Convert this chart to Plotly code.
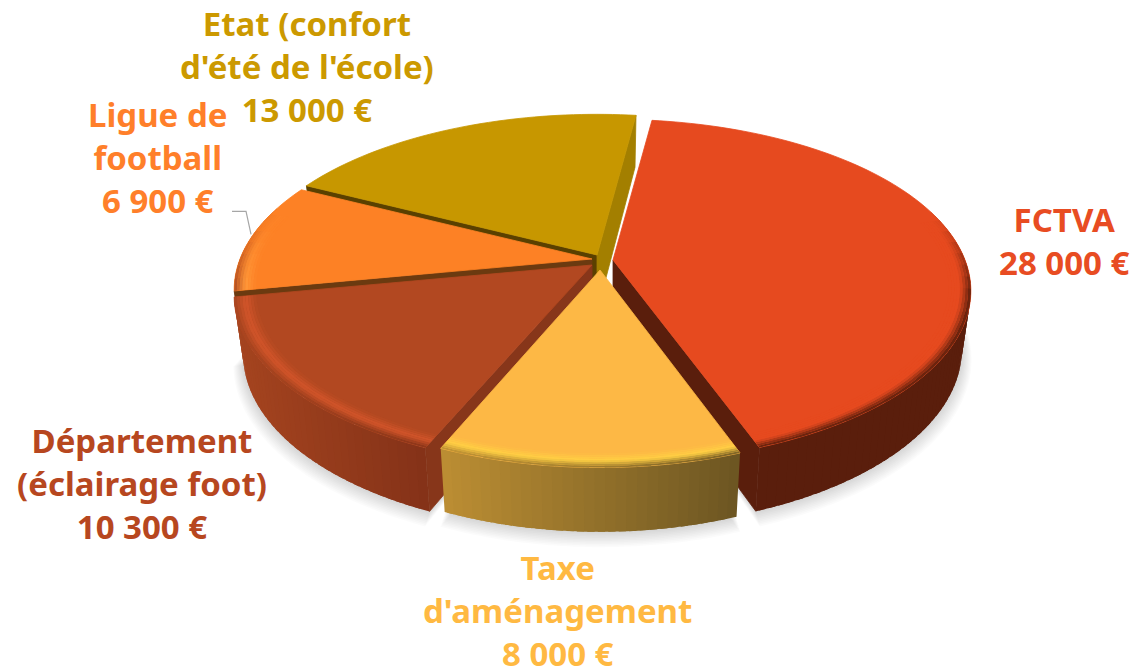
import numpy as np
import plotly.graph_objects as go

# --- data ---
names = ["FCTVA", "Taxe<br>d'aménagement", "Département<br>(éclairage foot)", "Ligue de<br>football", "Etat (confort<br>d'été de l'école)"]
values = [28000, 8000, 10300, 6900, 13000]
top_colors = ["#E64A1F", "#FDB845", "#B24821", "#FD8125", "#C79700"]
label_colors = ["#E84C22", "#FFB942", "#B7471F", "#FF7F2A", "#CC9900"]
wall_start = ["#5A1E0C", "#6C5522", "#87361A", "#6B3A10", "#5A4000"]
wall_end = ["#5A1E0C", "#6C5522", "#87361A", "#6B3A10", "#A37F00"]
side_left = ["#5A1E0C", "#BC8E33", "#A5441F", "#A5441F", "#8A6A00"]
side_right = ["#5A1E0C", "#6C5522", "#843218", "#A5441F", "#8A6A00"]
rim_hi = ["#E64A1F", "#FFD044", "#D2552A", "#FF9A3C", "#C79700"]

# --- layout of the drawing ---
FONT = "Noto Sans"
FS = 33
START = 7.5
A, B, K, H = 352.0, 166.0, 0.18, 57.0
BOTTOM_SCALE = 0.975
tips = [(613, 260), (600, 270), (592, 265), (592, 259), (597, 255)]
radius_x = [1.0, 0.96, 1.0, 1.0, 1.0]
radius_y = [1.0, 0.98, 1.0, 1.0, 1.0]
label_center = [(1064, 241), (557, 610), (142, 483), (157, 157), (307, 66)]
paint_order = [4, 3, 2, 0, 1]

theta = [START]
for v in values:
    theta.append(theta[-1] + 360.0 * v / sum(values))


def uv(t, r=1.0):
    a = np.radians(t)
    return r * np.sin(a), -r * np.cos(a)


def proj(i, u, v, bottom=False, grow=1.0, shift=0.0):
    u, v = u * radius_x[i], v * radius_y[i]
    s = 1.0 / (1.0 - K * v)
    sc = (BOTTOM_SCALE if bottom else 1.0) * grow
    x = tips[i][0] + A * u * s * sc
    y = tips[i][1] + B * v * s * sc + (H * s if bottom else 0.0) + shift
    return x, y


def rgb(c):
    c = c.lstrip("#")
    return np.array([int(c[j:j + 2], 16) for j in (0, 2, 4)], dtype=float)


def mix_hex(c1, c2, t):
    m = (rgb(c1) * (1 - t) + rgb(c2) * t).round().astype(int)
    return "#%02X%02X%02X" % tuple(m)


fig = go.Figure()


def poly(pts, fill, seam=True):
    xs = [p[0] for p in pts] + [pts[0][0]]
    ys = [p[1] for p in pts] + [pts[0][1]]
    fig.add_trace(go.Scatter(
        x=xs, y=ys, mode="lines", fill="toself", fillcolor=fill,
        line=dict(color=fill if seam else "rgba(0,0,0,0)", width=0.8, simplify=False),
        hoverinfo="skip", showlegend=False))


# soft ground shadow
for layer in range(10, 0, -1):
    for i in (0, 1, 2):
        ts = np.linspace(theta[i], theta[i + 1], 50)
        pts = [proj(i, *uv(t), bottom=True, grow=1 + 0.0028 * layer, shift=1.0 * layer) for t in ts]
        pts.append(proj(i, 0, 0, bottom=True))
        poly(pts, "rgba(0,0,0,0.016)", seam=False)

for i in paint_order:
    t0, t1 = theta[i], theta[i + 1]
    ts = np.linspace(t0, t1, max(6, int((t1 - t0) / 4)) + 1)
    ts_fine = np.linspace(t0, t1, max(10, int((t1 - t0) / 1.5)) + 1)
    fine_step = ts_fine[1] - ts_fine[0]

    # outer rim, shaded across the screen
    xs_rim = [proj(i, *uv(t))[0] for t in ts_fine]
    xmin, xmax = min(xs_rim), max(xs_rim)

    def side_color(t):
        f = (proj(i, *uv(t))[0] - xmin) / max(xmax - xmin, 1)
        return mix_hex(side_left[i], side_right[i], f)

    for a0, a1 in zip(ts_fine[:-1], ts_fine[1:]):
        if uv((a0 + a1) / 2)[1] > -0.3:
            # each strip runs under the next one, so no seam can show
            a2 = min(a1 + 0.7 * fine_step, t1)
            arc = np.linspace(a0, a2, 3)
            poly([proj(i, *uv(a)) for a in arc] +
                 [proj(i, *uv(a), bottom=True) for a in arc[::-1]],
                 side_color((a0 + a1) / 2), seam=False)

    # cut faces that look towards the viewer
    cam = np.array([0.0, 1.0 / K])
    for t, sign, col in ((t0, -1, wall_start[i]), (t1, 1, wall_end[i])):
        a = np.radians(t)
        normal = sign * np.array([np.cos(a), np.sin(a)])
        mid = np.array(uv(t, 0.5))
        if normal.dot(cam - mid) > 0:
            u, v = uv(t)
            poly([proj(i, 0, 0), proj(i, u, v), proj(i, u, v, bottom=True), proj(i, 0, 0, bottom=True)], col)

    # flat top
    poly([proj(i, 0, 0)] + [proj(i, *uv(t)) for t in ts_fine], top_colors[i])

    # bevel on the near part of the top edge, outermost ring first so that inner rings overlap it
    nr = 8
    rings = np.linspace(0.94, 1.0, nr + 1)
    step = ts[1] - ts[0]
    for k in range(nr - 1, -1, -1):
        r0, r1 = rings[k], rings[k + 1]
        tr = (k + 0.5) / nr
        for a0, a1 in zip(ts[:-1], ts[1:]):
            vm = uv((a0 + a1) / 2)[1]
            w = float(np.clip((vm + 0.25) / 0.45, 0, 1))
            if w <= 0:
                continue
            sc = side_color((a0 + a1) / 2)
            if tr < 0.5:
                c = mix_hex(top_colors[i], rim_hi[i], tr / 0.5)
            else:
                c = mix_hex(rim_hi[i], sc, (tr - 0.5) / 0.5)
            a2 = min(a1 + 0.5 * step, t1)
            arc = np.linspace(a0, a2, 3)
            poly([proj(i, *uv(a, r0)) for a in arc] +
                 [proj(i, *uv(a, r1)) for a in arc[::-1]],
                 mix_hex(top_colors[i], c, w), seam=False)

# leader of the "Ligue de football" label, ending at the rim of its slice
mid_ligue = (theta[3] + theta[4]) / 2
ex, ey = proj(3, *uv(mid_ligue, 1.0))
fig.add_trace(go.Scatter(
    x=[ex - 20, ex - 6, ex - 1], y=[ey - 25, ey - 25, ey - 2], mode="lines",
    line=dict(color="#A6A6A6", width=1.2), hoverinfo="skip", showlegend=False))

for i, name in enumerate(names):
    amount = f"{values[i]:,}".replace(",", " ") + " €"
    fig.add_annotation(
        x=label_center[i][0], y=label_center[i][1], xref="x", yref="y",
        text=f"<b>{name}<br>{amount}</b>", showarrow=False, align="center",
        xanchor="center", yanchor="middle",
        font=dict(family=FONT, size=FS, color=label_colors[i]))

fig.update_layout(
    width=1145, height=669, margin=dict(l=0, r=0, t=0, b=0),
    paper_bgcolor="white", plot_bgcolor="white", showlegend=False,
    xaxis=dict(range=[0, 1145], visible=False, domain=[0, 1]),
    yaxis=dict(range=[669, 0], visible=False, domain=[0, 1]),
)
fig.write_html("out.html", post_script="document.body.style.margin='0';",
               config={"displayModeBar": False})
